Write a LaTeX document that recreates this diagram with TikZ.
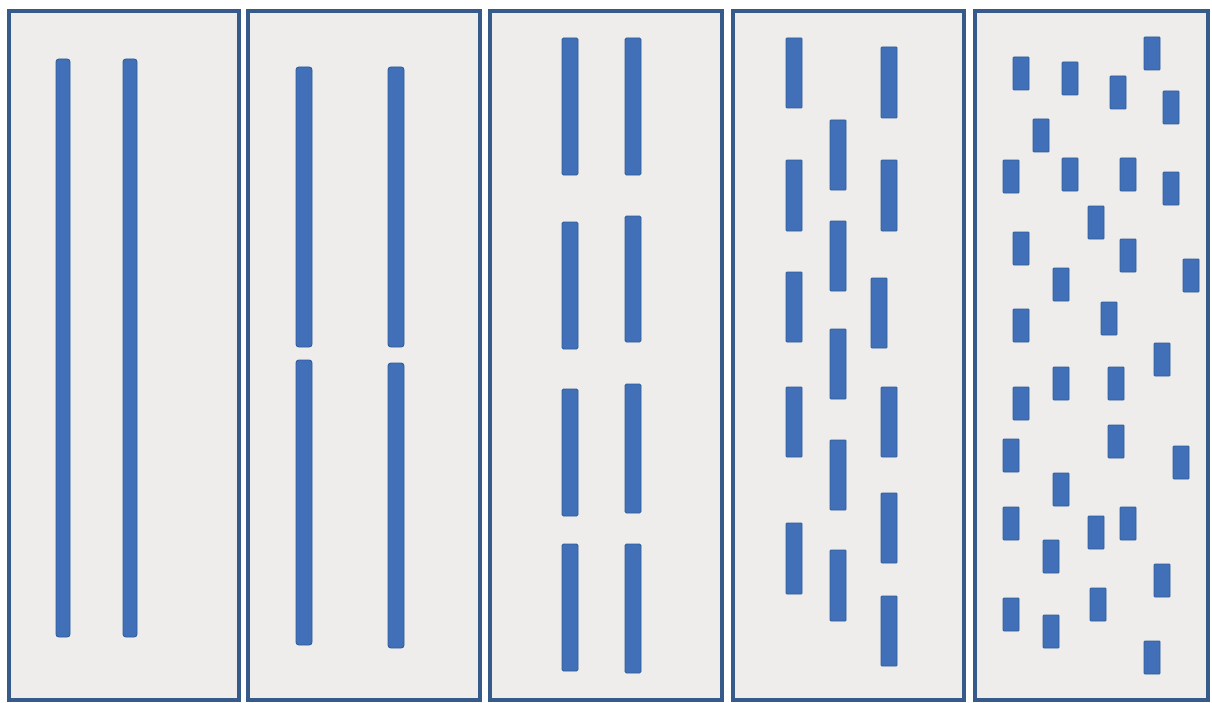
\documentclass[tikz,border=0pt]{standalone}
\usepackage{xcolor}
\usepackage{tikz}
\definecolor{pnBorder}{HTML}{365A8A}
\definecolor{pnPaper}{HTML}{EEEDEB}
\definecolor{barBlue}{HTML}{4170B8}
\definecolor{barEdge}{HTML}{2F5B96}
\tikzset{
  panel/.style={draw=pnBorder, fill=pnPaper, line width=2.6pt},
  rod/.style={draw=barEdge, fill=barBlue, line width=0.6pt, rounded corners=2pt},
  chip/.style={draw=barEdge, fill=barBlue, line width=0.6pt, rounded corners=0.6pt},
}

\begin{document}
\begin{tikzpicture}[x=0.025cm, y=-0.025cm]
  \useasboundingbox (0,0) rectangle (1212,703);
  % five panels
  \foreach \xa/\xb in {9/239, 248/480, 490/722, 733/964, 975/1208}
    \draw[panel] (\xa,11) rectangle (\xb,700);

  % panel 1: two long rods
  \foreach \cx in {63, 130}
    \draw[rod] (\cx-7,59) rectangle (\cx+7,637);
  % panel 2: rods broken once
  \foreach \cx/\ya/\yb in {304/67/347, 304/360/645, 396/67/347, 396/363/648}
    \draw[rod] (\cx-8,\ya) rectangle (\cx+8,\yb);
  % panel 3: four pieces each
  \foreach \cx/\ya/\yb in {570/38/175, 570/222/349, 570/389/516, 570/544/671,
                           633/38/175, 633/216/342, 633/384/513, 633/544/673}
    \draw[rod, rounded corners=1pt] (\cx-8,\ya) rectangle (\cx+8,\yb);
  % panel 4: shorter staggered pieces
  \foreach \cx/\ya/\yb in {794/38/108, 794/160/231, 794/272/342, 794/387/457, 794/523/594,
                           838/120/190, 838/221/291, 838/329/399, 838/440/510, 838/550/621,
                           889/47/118, 889/160/231, 879/278/348, 889/387/457, 889/493/563,
                           889/596/666}
    \draw[chip] (\cx-8,\ya) rectangle (\cx+8,\yb);
  % panel 5: scattered chips
  \foreach \cx/\cy in {1013/57, 1062/62, 1110/76, 1144/37, 1163/91, 1033/119,
                       1003/160, 1062/158, 1120/158, 1163/172, 1088/206, 1013/232,
                       1120/239, 1183/259, 1053/268, 1013/309, 1101/302, 1154/343,
                       1053/367, 1108/367, 1013/387, 1003/439, 1108/425, 1173/446,
                       1053/473, 1003/507, 1088/516, 1120/507, 1043/540, 1154/564,
                       1003/598, 1090/588, 1043/615, 1144/641}
    \draw[chip] (\cx,\cy) rectangle ++(16,33);
\end{tikzpicture}
\end{document}
